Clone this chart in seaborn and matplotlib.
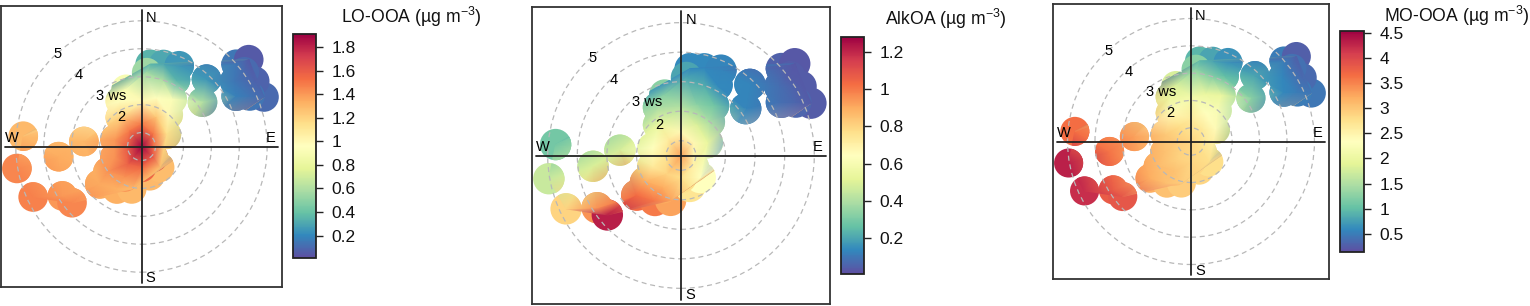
import numpy as np
import matplotlib
matplotlib.use("Agg")
import matplotlib.pyplot as plt
import seaborn as sns
from matplotlib.path import Path
from matplotlib.colors import Normalize
from matplotlib.cm import ScalarMappable
from matplotlib.ticker import FuncFormatter

# wind direction (deg) / wind speed bins that hold data (same met data in every panel)
wd = [275, 260, 245, 238, 231, 263, 275, 228, 210, 193,
      164, 139, 64, 40, 33, 285, 248, 0, 217, 180,
      133, 44, 323, 0, 324, 27, 335, 345, 2, 17,
      6, 15, 25, 4, 18, 233, 209, 270, 44, 54,
      49, 51, 62, 68, 60, 55, 54, 65, 27]
ws = [4.75, 5.03, 4.78, 3.84, 3.70, 3.49, 2.57, 2.51, 2.26, 2.06,
      1.59, 1.49, 1.49, 1.99, 2.52, 1.48, 1.53, 0.50, 1.29, 1.25,
      1.07, 1.11, 1.20, 1.30, 1.79, 1.67, 2.30, 2.62, 2.13, 2.33,
      3.46, 3.54, 3.69, 3.15, 2.97, 2.00, 1.75, 1.00, 3.85, 3.20,
      4.99, 5.44, 4.34, 5.23, 5.18, 4.57, 5.05, 4.78, 3.18]

# concentration (ug m-3) in each bin
lo_ooa = [1.30, 1.45, 1.47, 1.40, 1.45, 1.34, 1.30, 1.35, 1.33, 1.30,
          1.30, 1.28, 1.15, 1.00, 0.92, 1.40, 1.42, 1.90, 1.58, 1.55,
          1.60, 1.50, 1.50, 1.50, 1.20, 1.25, 0.95, 0.90, 1.00, 0.95,
          0.35, 0.30, 0.25, 0.55, 0.60, 1.42, 1.42, 1.60, 0.25, 0.60,
          0.15, 0.05, 0.18, 0.10, 0.08, 0.15, 0.10, 0.14, 0.35]
alkoa = [0.29, 0.45, 0.80, 0.95, 1.22, 0.49, 0.48, 1.03, 1.00, 0.92,
         0.75, 0.64, 0.54, 0.39, 0.29, 0.64, 0.73, 0.92, 0.80, 0.77,
         0.70, 0.67, 0.72, 0.67, 0.54, 0.49, 0.39, 0.33, 0.41, 0.33,
         0.14, 0.14, 0.13, 0.20, 0.22, 0.90, 0.90, 0.75, 0.13, 0.13,
         0.05, 0.03, 0.08, 0.04, 0.04, 0.08, 0.04, 0.06, 0.14]
mo_ooa = [3.65, 4.30, 4.20, 3.80, 3.85, 3.60, 3.30, 3.20, 3.04, 2.95,
          2.86, 2.77, 2.42, 2.20, 1.98, 3.00, 3.04, 2.86, 2.90, 2.86,
          2.77, 2.64, 2.77, 2.64, 2.42, 2.33, 1.98, 1.80, 2.10, 1.98,
          0.93, 0.80, 0.67, 1.24, 1.24, 3.10, 3.04, 2.95, 0.80, 1.24,
          0.49, 0.27, 0.58, 0.45, 0.36, 0.58, 0.40, 0.50, 1.00]

names = ["LO-OOA", "AlkOA", "MO-OOA"]
series = [lo_ooa, alkoa, mo_ooa]
scale_lims = [(0.01, 1.91), (0.007, 1.28), (0.14, 4.53)]
scale_ticks = [[0.2, 0.4, 0.6, 0.8, 1.0, 1.2, 1.4, 1.6, 1.8],
               [0.2, 0.4, 0.6, 0.8, 1.0, 1.2],
               [0.5, 1.0, 1.5, 2.0, 2.5, 3.0, 3.5, 4.0, 4.5]]
ring_ws = [1, 2, 3, 4, 5]

sns.set_theme(style="white")
plt.rcParams["font.family"] = ["Liberation Sans", "DejaVu Sans"]
plt.rcParams["mathtext.fontset"] = "custom"
plt.rcParams["mathtext.rm"] = "Liberation Sans"
plt.rcParams["mathtext.default"] = "regular"
plt.rcParams["text.color"] = "black"

W, H = 1530, 306
fig = plt.figure(figsize=(W / 100, H / 100), dpi=100)
cmap = plt.get_cmap("Spectral_r")


def frac(x, y, w, h):
    return [x / W, 1 - (y + h) / H, w / W, h / H]


# layout in pixels (left, top, width, height)
boxes = [(1, 6, 281, 281), (532, 7, 298, 297), (1053, 4, 276, 275)]
cbars = [(293, 34, 23, 224), (841, 37, 23, 237), (1340, 31, 24, 221)]
titles_at = [(341, 23), (885, 25), (1384, 22)]

LIM = 5.03
R = 0.53  # footprint of one bin, in ws units
rad = np.array(ws) - 0.5
th = np.deg2rad(wd)
u = rad * np.sin(th)
v = rad * np.cos(th)
coverage = Path.make_compound_path(*[Path.circle((a, b), R) for a, b in zip(u, v)])

for i, vals in enumerate(series):
    lo, hi = scale_lims[i]
    norm = Normalize(lo, hi)
    ax = fig.add_axes(frac(*boxes[i]))
    ax.set_xlim(-LIM, LIM)
    ax.set_ylim(-LIM, LIM)
    ax.set_xticks([])
    ax.set_yticks([])

    pt_per_unit = boxes[i][2] / 100 * 72 / (2 * LIM)
    sns.scatterplot(x=u, y=v, hue=vals, palette=cmap, hue_norm=norm,
                    s=(2 * R * pt_per_unit) ** 2, linewidth=0, legend=False,
                    ax=ax, zorder=1)
    surf = ax.tripcolor(u, v, vals, shading="gouraud", cmap=cmap, norm=norm, zorder=2)
    surf.set_clip_path(coverage, ax.transData)

    for k in ring_ws:
        ax.add_patch(plt.Circle((0, 0), k - 0.5, fill=False, ls=(0, (4, 3)),
                                lw=0.9, color="#b8b8b8", zorder=3))
    ax.plot([0, 0], [-4.9, 4.9], color="#222222", lw=1.3, zorder=4)
    ax.plot([-4.9, 4.9], [0, 0], color="#222222", lw=1.3, zorder=4)

    lab = dict(fontsize=10.5, zorder=5)
    ax.text(0.15, 4.6, "N", ha="left", va="center", **lab)
    ax.text(0.15, -4.72, "S", ha="left", va="center", **lab)
    ax.text(-4.9, 0.3, "W", ha="left", va="center", **lab)
    ax.text(4.45, 0.3, "E", ha="left", va="center", **lab)
    ax.text(-0.74, 1.05, "2", ha="center", va="center", **lab)
    ax.text(-1.64, 1.81, "3 ws", ha="left", va="center", **lab)
    ax.text(-2.26, 2.56, "4", ha="center", va="center", **lab)
    ax.text(-3.0, 3.3, "5", ha="center", va="center", **lab)

    for sp in ax.spines.values():
        sp.set_color("#333333")
        sp.set_linewidth(1.3)

    cax = fig.add_axes(frac(*cbars[i]))
    cb = fig.colorbar(ScalarMappable(norm=norm, cmap=cmap), cax=cax, ticks=scale_ticks[i])
    cb.ax.yaxis.set_major_formatter(FuncFormatter(lambda x, _: f"{x:g}"))
    cb.ax.tick_params(right=True, left=False, labelright=True, length=5, width=1,
                      labelsize=12.5, pad=6, color="#222222", labelcolor="#111111")
    cb.outline.set_linewidth(1.3)
    cb.outline.set_edgecolor("#222222")

    tx, ty = titles_at[i]
    fig.text(tx / W, 1 - ty / H, f"{names[i]} (µg m$^{{-3}}$)", fontsize=12.7,
             ha="left", va="baseline", color="#111111")

fig.savefig("out.png", dpi=100)
